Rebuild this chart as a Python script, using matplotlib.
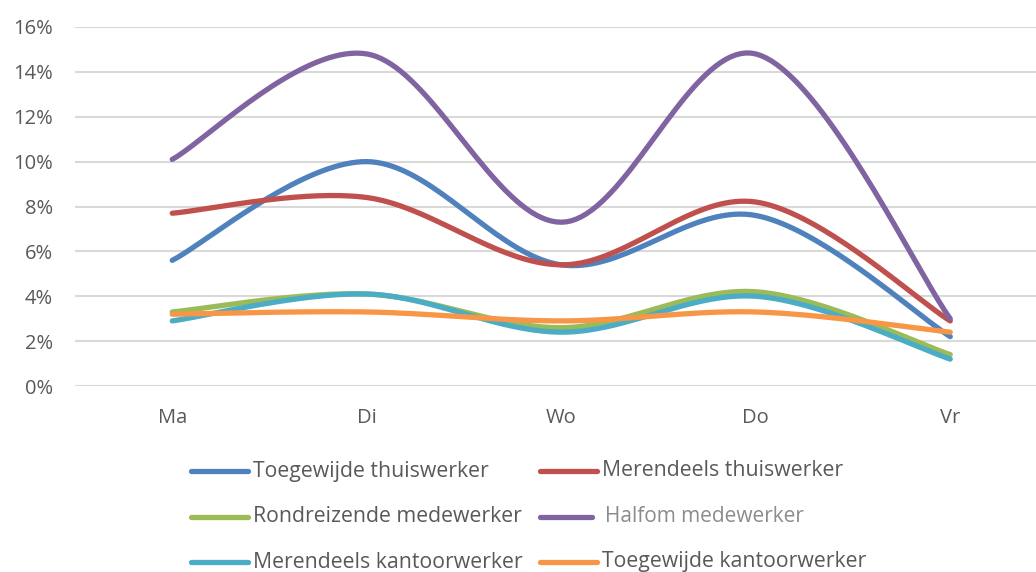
import numpy as np
import matplotlib
matplotlib.use("Agg")
import matplotlib.pyplot as plt
from matplotlib.lines import Line2D

days = ["Ma", "Di", "Wo", "Do", "Vr"]
toegewijde_thuis = [5.6, 10.0, 5.4, 7.6, 2.2]
merendeels_thuis = [7.7, 8.4, 5.4, 8.2, 2.9]
rondreizend = [3.3, 4.1, 2.6, 4.2, 1.4]
halfom = [10.1, 14.8, 7.3, 14.8, 3.0]
merendeels_kantoor = [2.9, 4.1, 2.4, 4.0, 1.2]
toegewijde_kantoor = [3.2, 3.3, 2.9, 3.3, 2.4]

series_names = ["Toegewijde thuiswerker", "Merendeels thuiswerker",
                "Rondreizende medewerker", "Halfom medewerker",
                "Merendeels kantoorwerker", "Toegewijde kantoorwerker"]
series_values = [toegewijde_thuis, merendeels_thuis, rondreizend, halfom,
                 merendeels_kantoor, toegewijde_kantoor]
colors = ["#4F81BD", "#C0504D", "#9BBB59", "#8064A2", "#4BACC6", "#F79646"]


def smooth(xs, ys, n=40):
    """Excel-like Catmull-Rom Bezier smoothing (rendering only)."""
    P = np.column_stack([xs, ys]).astype(float)
    out = []
    m = len(P)
    for i in range(m - 1):
        p0 = P[i - 1] if i > 0 else P[i]
        p1, p2 = P[i], P[i + 1]
        p3 = P[i + 2] if i + 2 < m else P[i + 1]
        c1 = p1 + (p2 - p0) / 6.0
        c2 = p2 - (p3 - p1) / 6.0
        t = np.linspace(0, 1, n)[:, None]
        seg = ((1 - t) ** 3) * p1 + 3 * ((1 - t) ** 2) * t * c1 + 3 * (1 - t) * t ** 2 * c2 + t ** 3 * p2
        out.append(seg if i == 0 else seg[1:])
    pts = np.vstack(out)
    return pts[:, 0], pts[:, 1]


plt.rcParams['font.family'] = ['Open Sans', 'DejaVu Sans']
W, H = 1036, 572
fig = plt.figure(figsize=(W / 100, H / 100), dpi=100)
ax = fig.add_axes([75 / W, (H - 386) / H, 972.5 / W, (386 - 27) / H])

x = np.arange(len(days))
for vals, c in zip(series_values, colors):
    sx, sy = smooth(x, vals)
    ax.plot(sx, sy, color=c, lw=3.8, solid_capstyle='round', zorder=3)

ax.set_xlim(-0.5, len(days) - 0.5)
ax.set_ylim(0, 16)
ax.set_yticks(np.arange(0, 17, 2))
ax.set_yticklabels([f"{v}%" for v in range(0, 17, 2)])
ax.set_xticks(x)
ax.set_xticklabels(days)
ax.yaxis.grid(True, color="#D9D9D9", lw=1.5, zorder=0)
for s in ax.spines.values():
    s.set_visible(False)
ax.tick_params(axis='both', length=0, labelsize=14.5, labelcolor="#595959")
ax.tick_params(axis='y', pad=16)
ax.tick_params(axis='x', pad=16)

# Legend (manual layout, 2 columns x 3 rows)
rows_y = [471, 517, 562]
col_x = [191, 540]
for i, (name, c) in enumerate(zip(series_names, colors)):
    r, col = divmod(i, 2)
    y = (H - rows_y[r]) / H
    x0 = col_x[col]
    if name == "Halfom medewerker":
        x1 = x0 + 52
        tx = x0 + 65
        tcol = "#8C8C8C"
        fs = 15
    else:
        x1 = x0 + 57
        tx = x0 + 62
        tcol = "#595959"
        fs = 15.3
    fig.add_artist(Line2D([x0 / W, x1 / W], [y, y], color=c, lw=3.8,
                          solid_capstyle='round', transform=fig.transFigure))
    fig.text(tx / W, y, name, color=tcol, fontsize=fs, va='center', ha='left')

fig.savefig("out.png", dpi=100)
